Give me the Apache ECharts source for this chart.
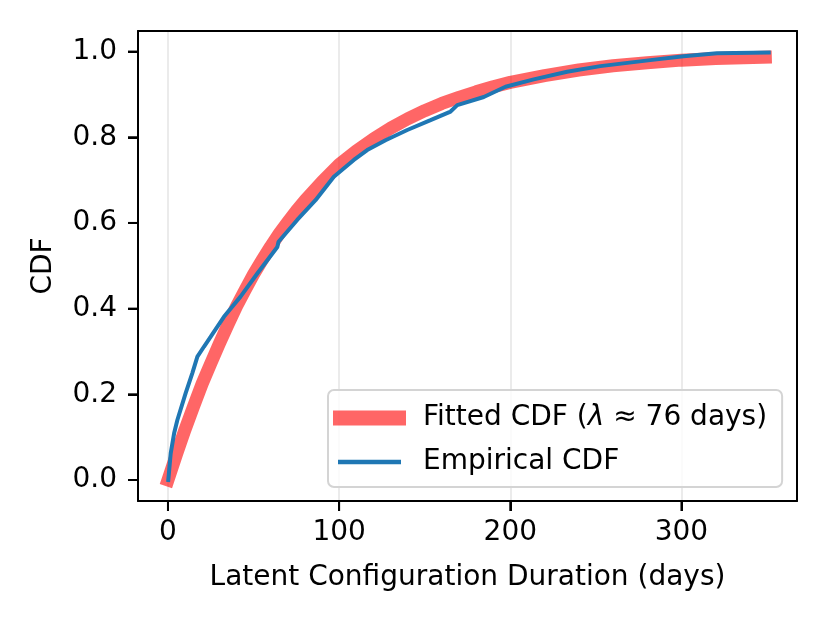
<!DOCTYPE html>
<html>
<head>
<meta charset="utf-8">
<title>Latent Configuration Duration CDF</title>
<script src="https://cdn.jsdelivr.net/npm/echarts@6.0.0/dist/echarts.min.js"></script>
<style>
  html, body { margin: 0; padding: 0; background: #fff; }
  #chart { width: 830px; height: 623px; }
</style>
</head>
<body>
<div id="chart"></div>
<script>
// values
const fittedName = 'Fitted CDF (λ ≈ 76 days)'
const empiricalName = 'Empirical CDF'

const fittedDays = [0, 5, 10, 15, 20, 25, 30, 35, 40, 45, 50, 55, 60, 65, 70, 75, 80, 90, 100, 110, 120, 130, 140, 150, 160, 170, 180, 190, 200, 220, 240, 260, 280, 300, 320, 349]
const fittedCdf = [0, 0.06, 0.118, 0.172, 0.225, 0.272, 0.318, 0.362, 0.405, 0.443, 0.48, 0.513, 0.545, 0.575, 0.602, 0.628, 0.652, 0.696, 0.736, 0.768, 0.796, 0.821, 0.843, 0.862, 0.879, 0.893, 0.906, 0.918, 0.928, 0.944, 0.957, 0.967, 0.974, 0.98, 0.984, 0.987]

const empiricalDays = [0.2, 1.6, 3.6, 5.5, 10.3, 14.2, 17.2, 21, 24.9, 32.7, 42.4, 52.2, 63.9, 64.6, 75.5, 86.2, 96.9, 108.6, 116.4, 127.1, 139.8, 153.4, 165.1, 169, 184.5, 197.2, 213.7, 233.2, 252.6, 281.8, 301.2, 320.7, 351]
const empiricalCdf = [0, 0.062, 0.109, 0.14, 0.202, 0.249, 0.288, 0.311, 0.334, 0.381, 0.428, 0.482, 0.544, 0.556, 0.607, 0.653, 0.708, 0.747, 0.77, 0.793, 0.817, 0.84, 0.86, 0.875, 0.894, 0.918, 0.935, 0.953, 0.966, 0.98, 0.989, 0.996, 0.998]

const xTicks = [0, 100, 200, 300]
const yTicks = [0, 0.2, 0.4, 0.6, 0.8, 1.0]
const xRange = [-17.5, 367.5]
const yRange = [-0.049, 1.048]

const font = 'DejaVu Sans'
const grid = { left: 138, right: 33, top: 31, bottom: 122 }
const tickLength = 10
const toPairs = (xs, ys) => xs.map((x, i) => [x, ys[i]])
const frame = () => ({ show: true, onZero: false, lineStyle: { color: '#000', width: 2 } })

// plain axis used only to close the box on the top / right side
const edgeAxis = (position, range) => ({
  type: 'value', position, min: range[0], max: range[1],
  axisLine: frame(), axisTick: { show: false }, axisLabel: { show: false }, splitLine: { show: false }
})

const chart = echarts.init(document.getElementById('chart'))

const option = {
  animation: false,
  textStyle: { fontFamily: font },
  grid: grid,
  xAxis: [
    {
      type: 'value',
      position: 'bottom',
      min: xRange[0],
      max: xRange[1],
      name: 'Latent Configuration Duration (days)',
      nameLocation: 'middle',
      nameGap: 63,
      nameTextStyle: { fontSize: 28, color: '#000', fontFamily: font },
      axisLine: frame(),
      axisTick: { show: true, length: tickLength, lineStyle: { color: '#000', width: 2 }, customValues: xTicks },
      axisLabel: { fontSize: 28, color: '#000', margin: 18, fontFamily: font, customValues: xTicks },
      splitLine: { show: true, lineStyle: { color: '#e6e6e6', width: 1.6 } }
    },
    edgeAxis('top', xRange)
  ],
  yAxis: [
    {
      type: 'value',
      position: 'left',
      min: yRange[0],
      max: yRange[1],
      name: 'CDF',
      nameLocation: 'middle',
      nameGap: 80,
      nameTextStyle: { fontSize: 28, color: '#000', fontFamily: font },
      axisLine: frame(),
      axisTick: { show: true, length: tickLength, lineStyle: { color: '#000', width: 2 }, customValues: yTicks },
      axisLabel: {
        fontSize: 28, color: '#000', margin: 21, fontFamily: font, customValues: yTicks,
        formatter: v => v.toFixed(1)
      },
      splitLine: { show: false }
    },
    edgeAxis('right', yRange)
  ],
  legend: [
    {
      data: [{ name: fittedName, icon: 'rect' }],
      orient: 'vertical',
      left: 328,
      top: 390,
      itemWidth: 73,
      itemHeight: 15,
      padding: [13, 15, 54, 5],
      backgroundColor: 'rgba(255,255,255,0.8)',
      borderColor: '#d4d4d4',
      borderWidth: 2,
      borderRadius: 6,
      formatter: () => '{a|Fitted CDF (}{b|λ}{a| ≈ 76 days)}',
      textStyle: {
        fontSize: 28, color: '#000', fontFamily: font, lineHeight: 30, padding: [0, 0, 0, 12],
        rich: {
          a: { fontSize: 28, color: '#000', fontFamily: font, lineHeight: 30 },
          b: { fontSize: 28, color: '#000', fontFamily: font, fontStyle: 'italic', lineHeight: 30 }
        }
      }
    },
    {
      data: [{ name: empiricalName, icon: 'rect' }],
      orient: 'vertical',
      left: 338,
      top: 447,
      itemWidth: 63,
      itemHeight: 4.5,
      padding: 0,
      textStyle: { fontSize: 28, color: '#000', fontFamily: font, lineHeight: 30, padding: [0, 0, 0, 17] }
    }
  ],
  series: [
    {
      name: fittedName,
      type: 'line',
      xAxisIndex: 0,
      yAxisIndex: 0,
      data: toPairs(fittedDays, fittedCdf),
      showSymbol: false,
      itemStyle: { color: 'rgba(255,0,0,0.6)' },
      lineStyle: { color: 'rgba(255,0,0,0.6)', width: 13, cap: 'square', join: 'round' }
    },
    {
      name: empiricalName,
      type: 'line',
      xAxisIndex: 0,
      yAxisIndex: 0,
      data: toPairs(empiricalDays, empiricalCdf),
      showSymbol: false,
      itemStyle: { color: '#1f77b4' },
      lineStyle: { color: '#1f77b4', width: 4, cap: 'square' }
    }
  ]
}

chart.setOption(option)

// outward tick marks, placed through the axes' own scales
const plotLeft = grid.left
const plotBottom = 623 - grid.bottom
const tickStyle = { stroke: '#000', lineWidth: 2 }
const tickMarks = [
  ...xTicks.map(v => {
    const px = chart.convertToPixel({ xAxisIndex: 0 }, v)
    return { type: 'line', z: 10, silent: true, shape: { x1: px, y1: plotBottom, x2: px, y2: plotBottom + tickLength }, style: tickStyle }
  }),
  ...yTicks.map(v => {
    const py = chart.convertToPixel({ yAxisIndex: 0 }, v)
    return { type: 'line', z: 10, silent: true, shape: { x1: plotLeft - tickLength, y1: py, x2: plotLeft, y2: py }, style: tickStyle }
  })
]
chart.setOption({ graphic: tickMarks })
</script>
</body>
</html>
